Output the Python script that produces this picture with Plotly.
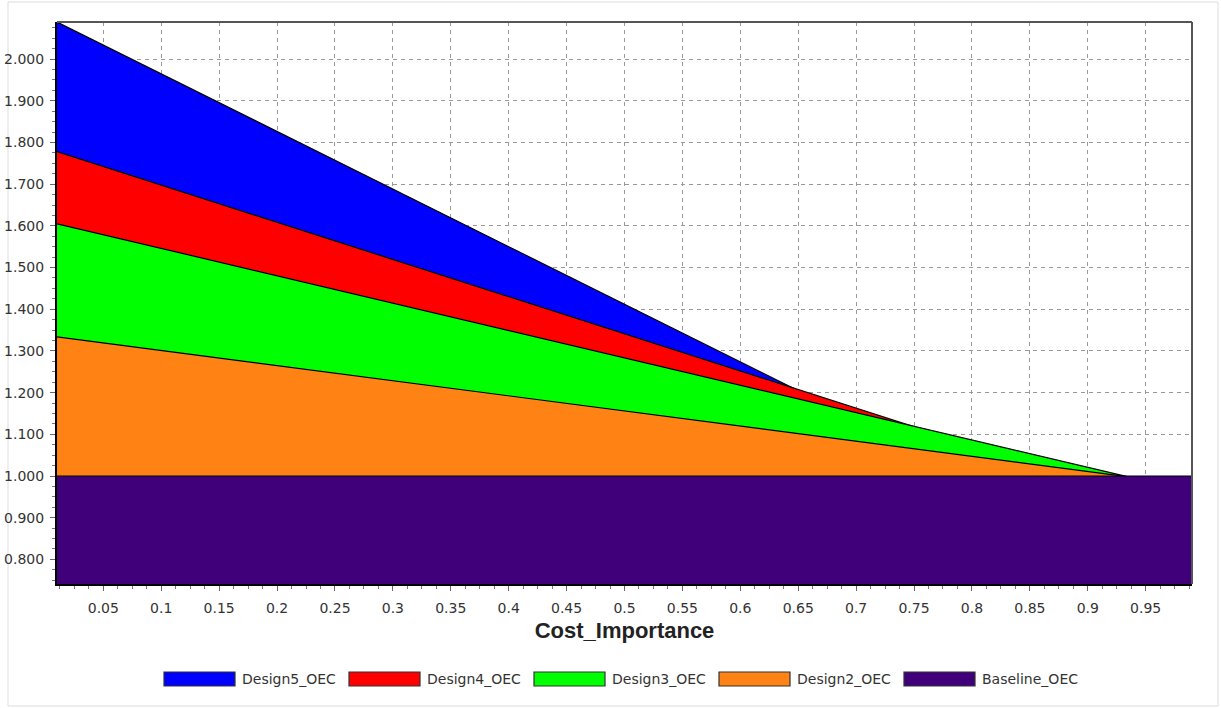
import plotly.graph_objects as go

# ---- data ----
cost_importance = [0.01, 0.99]
design5_oec = [2.089, 0.735]
design4_oec = [1.778, 0.904]
design3_oec = [1.605, 0.962]
design2_oec = [1.334, 0.978]
baseline_oec = [1.000, 1.000]

series_names = ["Design5_OEC", "Design4_OEC", "Design3_OEC", "Design2_OEC", "Baseline_OEC"]
series_values = [design5_oec, design4_oec, design3_oec, design2_oec, baseline_oec]
series_colors = ["#0000FF", "#FF0000", "#00FF00", "#FF8214", "#40007A"]

x_range = [0.01, 0.99]
y_range = [0.741, 2.089]

W, H = 1221, 708
L, R, T, B = 57, 29, 22, 124
PW, PH = W - L - R, H - T - B

fig = go.Figure()
for name, vals, col in zip(series_names, series_values, series_colors):
    fig.add_trace(go.Scatter(
        x=cost_importance, y=vals, name=name, mode="lines",
        line=dict(color="black", width=1.2),
        fill="tozeroy", fillcolor=col, showlegend=False,
    ))

def px_to_paper(x, y):
    return (x - L) / PW, (H - B - y) / PH

shapes = []
annotations = []

# outer light frame
x0, y0 = px_to_paper(8, 2)
x1, y1 = px_to_paper(1218, 706)
shapes.append(dict(type="rect", xref="paper", yref="paper", x0=x0, y0=y1, x1=x1, y1=y0,
                   line=dict(color="#DDDDDD", width=1), layer="below"))
# top and right plot border (dark grey)
shapes.append(dict(type="line", xref="paper", yref="paper", x0=0, y0=1, x1=1, y1=1,
                   line=dict(color="#555555", width=2)))
shapes.append(dict(type="line", xref="paper", yref="paper", x0=1, y0=0, x1=1, y1=1,
                   line=dict(color="#555555", width=2)))

# custom legend with wide swatches
sw_left0, sw_w, sw_step = 164, 71, 185
sw_top, sw_bot = 672, 686
for i, (name, col) in enumerate(zip(series_names, series_colors)):
    lx = sw_left0 + i * sw_step
    ax0, ay0 = px_to_paper(lx, sw_bot)
    ax1, ay1 = px_to_paper(lx + sw_w, sw_top)
    shapes.append(dict(type="rect", xref="paper", yref="paper", x0=ax0, y0=ay0, x1=ax1, y1=ay1,
                       fillcolor=col, line=dict(color="#333333", width=1.2)))
    tx, ty = px_to_paper(lx + sw_w + 5, (sw_top + sw_bot) / 2)
    annotations.append(dict(xref="paper", yref="paper", x=tx, y=ty, text=name, showarrow=False,
                            xanchor="left", yanchor="middle",
                            font=dict(family="DejaVu Sans", size=14, color="#333333")))

fig.update_layout(
    width=W, height=H,
    margin=dict(l=L, r=R, t=T, b=B, pad=0, autoexpand=False),
    paper_bgcolor="white", plot_bgcolor="white",
    showlegend=False,
    shapes=shapes, annotations=annotations,
    xaxis=dict(
        range=x_range, dtick=0.05, tick0=0, automargin=False,
        showgrid=True, gridcolor="#999999", griddash="4px,4px", gridwidth=1,
        zeroline=False, showline=True, linecolor="black", linewidth=2,
        ticks="outside", ticklen=5, tickcolor="#666666",
        minor=dict(dtick=0.0125, ticks="outside", ticklen=3, tickcolor="#777777", showgrid=False),
        tickfont=dict(family="DejaVu Sans", size=14, color="#333333"),
        ticklabelstandoff=5,
        title=dict(text="<b>Cost_Importance</b>", standoff=8,
                   font=dict(family="Liberation Sans", size=22, color="#222222")),
    ),
    yaxis=dict(
        range=y_range, dtick=0.1, tick0=0, tickformat=".3f", automargin=False,
        showgrid=True, gridcolor="#999999", griddash="4px,4px", gridwidth=1,
        zeroline=False, showline=True, linecolor="black", linewidth=2,
        ticks="outside", ticklen=5, tickcolor="#666666",
        minor=dict(dtick=0.025, ticks="outside", ticklen=3, tickcolor="#777777", showgrid=False),
        tickfont=dict(family="DejaVu Sans", size=14, color="#333333"),
        ticklabelstandoff=3,
    ),
)

fig.write_html("out.html", config={"displayModeBar": False},
               post_script="document.body.style.margin='0';document.body.style.overflow='hidden';")
